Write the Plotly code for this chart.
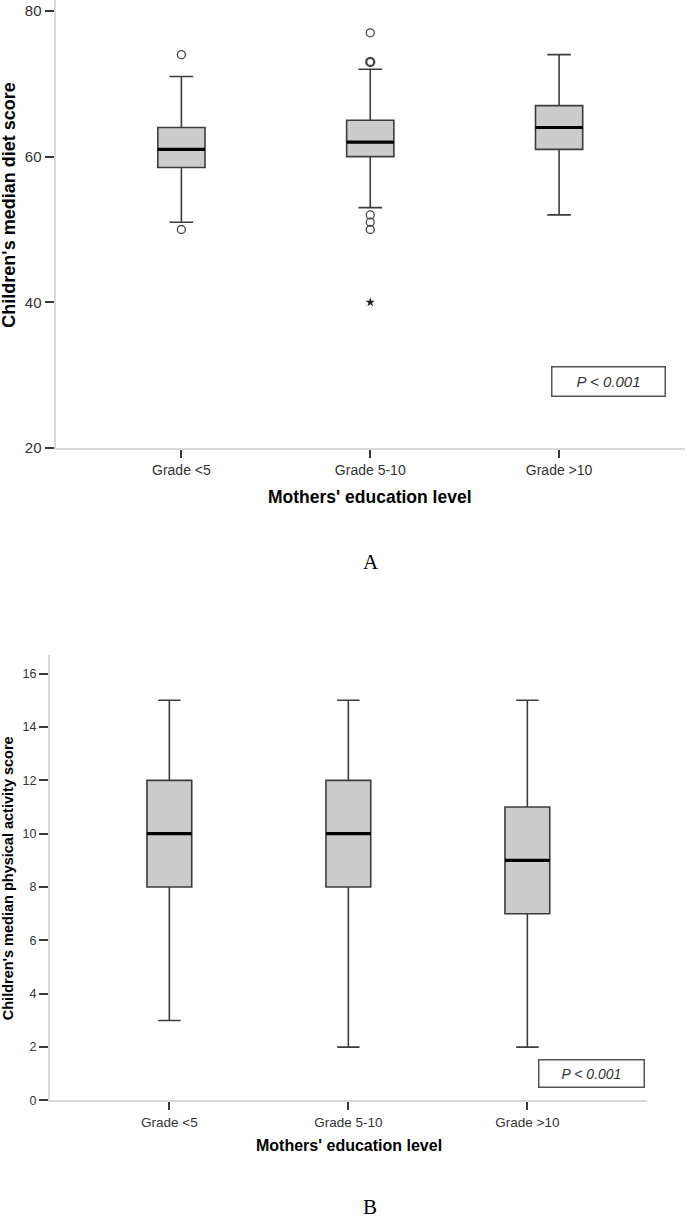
import plotly.graph_objects as go
from collections import Counter

# ---------------- data ----------------
categories = ["Grade <5", "Grade 5-10", "Grade >10"]

# Panel A: children's median diet score
diet_q1 = [58.5, 60, 61]
diet_median = [61, 62, 64]
diet_q3 = [64, 65, 67]
diet_low = [51, 53, 52]
diet_high = [71, 72, 74]
diet_outliers = [[74, 50], [77, 73, 73, 52, 51, 50], []]
diet_extremes = [[], [40], []]
diet_ticks = [20, 40, 60, 80]

# Panel B: children's median physical activity score
pa_q1 = [8, 8, 7]
pa_median = [10, 10, 9]
pa_q3 = [12, 12, 11]
pa_low = [3, 2, 2]
pa_high = [15, 15, 15]
pa_ticks = [0, 2, 4, 6, 8, 10, 12, 14, 16]

p_text = "P < 0.001"

# ---------------- styling ----------------
W, H = 687, 1225
FONT = "Liberation Sans, Arial, sans-serif"
BOX_W = 0.25
FILL = "#cccccc"
EDGE = "#3c3c3c"
AXIS_LINE = "#d9d9d9"
TICK_C = "#3a3a3a"


def esc(s):
    return s.replace("<", "&lt;").replace(">", "&gt;")


def px_x(px):
    return px / W


def px_y(px):
    return 1 - px / H


fig = go.Figure()


def add_panel(q1, med, q3, lo, hi, xa, ya, outl=None, extr=None):
    xs = list(range(len(categories)))
    for i in xs:
        fig.add_trace(go.Box(
            x=[i], q1=[q1[i]], median=[med[i]], q3=[q3[i]],
            lowerfence=[lo[i]], upperfence=[hi[i]],
            width=BOX_W, whiskerwidth=0.5,
            fillcolor=FILL, line=dict(color=EDGE, width=1.6),
            boxpoints=False, xaxis=xa, yaxis=ya, showlegend=False,
            hoverinfo="skip"))
        # thick median line
        fig.add_trace(go.Scatter(
            x=[i - BOX_W / 2, i + BOX_W / 2], y=[med[i], med[i]],
            mode="lines", line=dict(color="black", width=3.2),
            xaxis=xa, yaxis=ya, showlegend=False, hoverinfo="skip"))
        if outl and outl[i]:
            counts = Counter(outl[i])
            vals = list(counts.keys())
            fig.add_trace(go.Scatter(
                x=[i] * len(vals), y=vals, mode="markers",
                marker=dict(symbol="circle-open", size=8,
                            line=dict(color="#444444",
                                      width=[1.3 if counts[v] == 1 else 2.3 for v in vals]),
                            color="#444444"),
                xaxis=xa, yaxis=ya, showlegend=False, hoverinfo="skip"))
        if extr and extr[i]:
            fig.add_trace(go.Scatter(
                x=[i] * len(extr[i]), y=extr[i], mode="markers",
                marker=dict(symbol="star", size=7, color="#222222"),
                xaxis=xa, yaxis=ya, showlegend=False, hoverinfo="skip"))


add_panel(diet_q1, diet_median, diet_q3, diet_low, diet_high, "x", "y",
          diet_outliers, diet_extremes)
add_panel(pa_q1, pa_median, pa_q3, pa_low, pa_high, "x2", "y2")

xcommon = dict(
    range=[-2 / 3, len(categories) - 1 + 2 / 3],
    tickmode="array", tickvals=list(range(len(categories))),
    ticktext=[esc(c) for c in categories],
    showline=True, linecolor=AXIS_LINE, linewidth=2,
    ticks="outside", ticklen=8, tickwidth=2, tickcolor=TICK_C,
    showgrid=False, zeroline=False, fixedrange=True,
)
ycommon = dict(
    showline=True, linecolor=AXIS_LINE, linewidth=2,
    ticks="outside", ticklen=9, tickwidth=2, tickcolor=TICK_C,
    showgrid=False, zeroline=False, fixedrange=True,
    tickmode="array",
)

fig.update_layout(
    width=W, height=H,
    margin=dict(l=0, r=0, t=0, b=0),
    paper_bgcolor="white", plot_bgcolor="white",
    showlegend=False,
    xaxis=dict(**xcommon, domain=[px_x(55.5), px_x(685)], anchor="y",
               tickfont=dict(family=FONT, size=14, color="#333333")),
    yaxis=dict(**ycommon, domain=[px_y(451), px_y(0)], anchor="x",
               range=[20, 81.5], tickvals=diet_ticks,
               tickfont=dict(family=FONT, size=15, color="#333333")),
    xaxis2=dict(**xcommon, domain=[px_x(50), px_x(646.7)], anchor="y2",
                tickfont=dict(family=FONT, size=13.5, color="#333333")),
    yaxis2=dict(**ycommon, domain=[px_y(1107.7), px_y(659)], anchor="x2",
                range=[0, 16.71], tickvals=pa_ticks,
                tickfont=dict(family=FONT, size=12.5, color="#333333")),
)

ann = []
# axis titles
ann.append(dict(text="<b>Children's median diet score</b>", x=px_x(9), y=px_y(207),
                textangle=-90, font=dict(family=FONT, size=18, color="black")))
ann.append(dict(text="<b>Mothers' education level</b>", x=px_x(370), y=px_y(500),
                font=dict(family=FONT, size=17.5, color="black")))
ann.append(dict(text="<b>Children's median physical activity score</b>", x=px_x(8), y=px_y(884),
                textangle=-90, font=dict(family=FONT, size=14.5, color="black")))
ann.append(dict(text="<b>Mothers' education level</b>", x=px_x(349), y=px_y(1153),
                font=dict(family=FONT, size=16, color="black")))
# panel letters
ann.append(dict(text="A", x=px_x(371), y=px_y(566),
                font=dict(family="Liberation Serif, Times New Roman, serif", size=21, color="black")))
ann.append(dict(text="B", x=px_x(370), y=px_y(1215),
                font=dict(family="Liberation Serif, Times New Roman, serif", size=21, color="black")))
# p-value boxes
ann.append(dict(text="<i>" + esc(p_text) + "</i>", x=px_x(608), y=px_y(384),
                width=110, height=26, borderpad=1, borderwidth=1.5, bordercolor="#555555",
                bgcolor="white", font=dict(family=FONT, size=15, color="#333333")))
ann.append(dict(text="<i>" + esc(p_text) + "</i>", x=px_x(591.5), y=px_y(1081),
                width=102, height=24, borderpad=1, borderwidth=1.5, bordercolor="#555555",
                bgcolor="white", font=dict(family=FONT, size=14, color="#333333")))

for a in ann:
    a.update(xref="paper", yref="paper", showarrow=False, xanchor="center", yanchor="middle")
fig.update_layout(annotations=ann)

css_fix = (
    "document.documentElement.style.margin='0';"
    "document.documentElement.style.padding='0';"
    "document.documentElement.style.overflow='hidden';"
    "document.body.style.margin='0';"
    "document.body.style.padding='0';"
    "document.body.style.overflow='hidden';"
)
fig.write_html("out.html", config={"displayModeBar": False}, post_script=css_fix)
